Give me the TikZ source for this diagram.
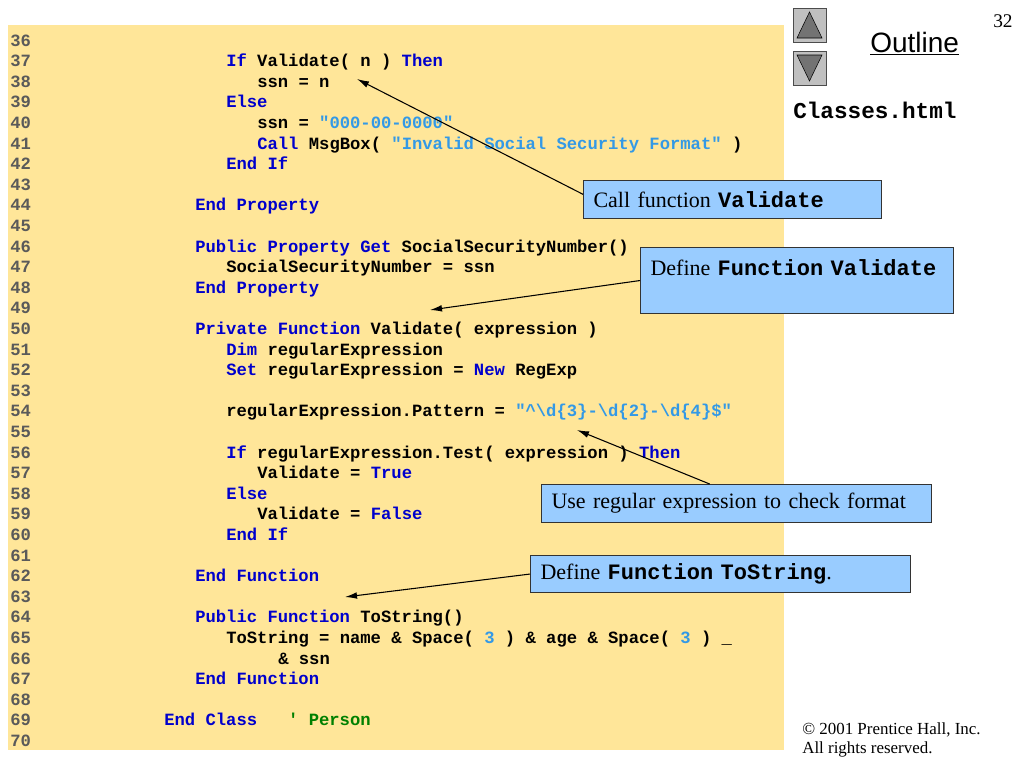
\documentclass[tikz,border=0pt]{standalone}
\usepackage{fontspec}
\setmainfont{Liberation Serif}
\newfontfamily\codefont{Liberation Mono}
\newfontfamily\outlinefont{Liberation Sans}
\usetikzlibrary{arrows.meta}
\definecolor{codebg}{RGB}{255,230,153}
\definecolor{calloutbg}{RGB}{153,204,255}
\definecolor{kwblue}{RGB}{0,0,204}
\definecolor{strblue}{RGB}{51,153,230}
\definecolor{cmtgreen}{RGB}{0,128,0}
\definecolor{numgray}{RGB}{90,90,90}
\definecolor{btngray}{RGB}{192,192,192}
\definecolor{tridark}{RGB}{115,115,115}
\newcommand\kwd[1]{\textcolor{kwblue}{#1}}
\newcommand\strg[1]{\textcolor{strblue}{#1}}
\newcommand\cmnt[1]{\textcolor{cmtgreen}{#1}}
\newcommand\cbold[1]{{\codefont\bfseries #1}}
\tikzset{
  code/.style={anchor=base west,inner sep=0pt,font=\codefont\bfseries\fontsize{12.9}{15}\selectfont},
  lnum/.style={code,text=numgray},
  callout/.style={draw=black!80,fill=calloutbg,anchor=north west,inner xsep=7.5pt,inner ysep=0pt,
    align=left,font=\fontsize{16.5}{20}\selectfont,line width=0.8pt},
  pointer/.style={-{Latex[length=9pt,width=5pt]},line width=0.8pt},
}
\begin{document}
\begin{tikzpicture}[x=0.75pt,y=-0.75pt]
\useasboundingbox (0,0) rectangle (1024,768);
% code panel
\fill[codebg] (8,25) rectangle (784,750);
\foreach \n in {36,...,70}
  \node[lnum] (n\n) at (10,{46+(\n-36)*20.6}) {\n};
% code lines, x = 10 + column*10.3
\node[code] (l37) at (226,{46+1*20.6}) {\kwd{If} Validate( n ) \kwd{Then}};
\node[code] (l38) at (257,{46+2*20.6}) {ssn = n};
\node[code] (l39) at (226,{46+3*20.6}) {\kwd{Else}};
\node[code] (l40) at (257,{46+4*20.6}) {ssn = \strg{"000-00-0000"}};
\node[code] (l41) at (257,{46+5*20.6}) {\kwd{Call} MsgBox( \strg{"Invalid Social Security Format"} )};
\node[code] (l42) at (226,{46+6*20.6}) {\kwd{End If}};
\node[code] (l44) at (195,{46+8*20.6}) {\kwd{End Property}};
\node[code] (l46) at (195,{46+10*20.6}) {\kwd{Public Property Get} SocialSecurityNumber()};
\node[code] (l47) at (226,{46+11*20.6}) {SocialSecurityNumber = ssn};
\node[code] (l48) at (195,{46+12*20.6}) {\kwd{End Property}};
\node[code] (l50) at (195,{46+14*20.6}) {\kwd{Private Function} Validate( expression )};
\node[code] (l51) at (226,{46+15*20.6}) {\kwd{Dim} regularExpression};
\node[code] (l52) at (226,{46+16*20.6}) {\kwd{Set} regularExpression = \kwd{New} RegExp};
\node[code] (l54) at (226,{46+18*20.6}) {regularExpression.Pattern = \strg{"\textasciicircum\textbackslash d\{3\}-\textbackslash d\{2\}-\textbackslash d\{4\}\$"}};
\node[code] (l56) at (226,{46+20*20.6}) {\kwd{If} regularExpression.Test( expression ) \kwd{Then}};
\node[code] (l57) at (257,{46+21*20.6}) {Validate = \kwd{True}};
\node[code] (l58) at (226,{46+22*20.6}) {\kwd{Else}};
\node[code] (l59) at (257,{46+23*20.6}) {Validate = \kwd{False}};
\node[code] (l60) at (226,{46+24*20.6}) {\kwd{End If}};
\node[code] (l62) at (195,{46+26*20.6}) {\kwd{End Function}};
\node[code] (l64) at (195,{46+28*20.6}) {\kwd{Public Function} ToString()};
\node[code] (l65) at (226,{46+29*20.6}) {ToString = name \& Space( \strg{3} ) \& age \& Space( \strg{3} ) \_};
\node[code] (l66) at (278,{46+30*20.6}) {\& ssn};
\node[code] (l67) at (195,{46+31*20.6}) {\kwd{End Function}};
\node[code] (l69) at (164,{46+33*20.6}) {\kwd{End Class}\ \ \ \cmnt{\textquotesingle\ Person}};
% navigation and titles
\draw[draw=black!70,fill=btngray] (793,8) rectangle (826,42);
\draw[fill=tridark] (797,38) -- (822,38) -- (809.5,12) -- cycle;
\draw[draw=black!70,fill=btngray] (793,51) rectangle (826,85);
\draw[fill=tridark] (797,55) -- (822,55) -- (809.5,81) -- cycle;
\node[anchor=base west,inner sep=0pt,font=\outlinefont\fontsize{21}{24}\selectfont] (outline) at (870,52) {\underline{Outline}};
\node[anchor=base west,inner sep=0pt,font=\fontsize{14.5}{16}\selectfont] (page) at (993,27) {32};
\node[anchor=base west,inner sep=0pt,font=\codefont\bfseries\fontsize{17}{20}\selectfont] (file) at (793,118) {Classes.html};
\node[anchor=base west,inner sep=0pt,font=\fontsize{12.7}{15}\selectfont] (copy1) at (802,734) {\textcopyright\ 2001 Prentice Hall, Inc.};
\node[anchor=base west,inner sep=0pt,font=\fontsize{12.7}{15}\selectfont] (copy2) at (802,753) {All rights reserved.};
% callouts
\node[callout,text width=208.5pt,minimum height=28.5pt] (call) at (583,180) {Call function \cbold{Validate}};
\node[callout,text width=219.75pt,minimum height=49.5pt] (defval) at (640,247) {Define \cbold{Function Validate}\\[0pt]\mbox{}};
\node[callout,text width=277.5pt,minimum height=28.5pt] (useregex) at (541,484) {Use regular expression to check format};
\node[callout,text width=270pt,minimum height=27.75pt] (deftostr) at (530,555) {Define \cbold{Function ToString}.};
% pointers
\coordinate (tipA) at (357,79);
\coordinate (tipB) at (430,310);
\coordinate (tipC) at (577,430);
\coordinate (tipD) at (345,597);
\draw[pointer] (call.178) -- (tipA);
\draw[pointer] (defval.west) -- (tipB);
\draw[pointer] (useregex.144) -- (tipC);
\draw[pointer] (deftostr.west) -- (tipD);
\end{tikzpicture}
\end{document}
